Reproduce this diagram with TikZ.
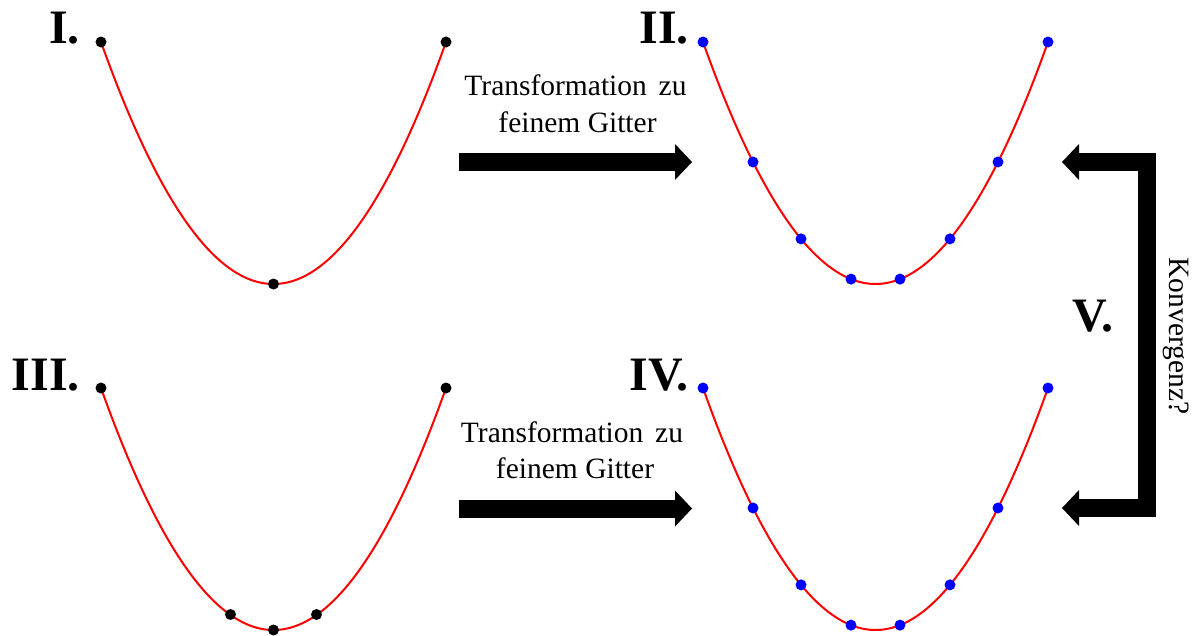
\documentclass[tikz,border=0pt]{standalone}
\usepackage{fontspec}
\setmainfont{Liberation Serif}
\usetikzlibrary{arrows.meta}
\begin{document}
\begin{tikzpicture}[x=1pt,y=-1pt,
  curve/.style={draw=red,line width=2pt},
  bdot/.style={circle,fill=black,inner sep=0pt,minimum size=11pt},
  udot/.style={circle,fill=blue,inner sep=0pt,minimum size=11pt},
  numlabel/.style={font=\bfseries\fontsize{48}{48}\selectfont,inner sep=0pt,anchor=base east},
  txt/.style={font=\fontsize{29.5}{36}\selectfont,inner sep=0pt,anchor=base},
  bigarrow/.style={line width=18pt,line join=miter,-{Triangle[length=17pt,width=36pt,line width=0pt]}}]
\useasboundingbox (0,0) rectangle (1197,635);
% parabolas
\def\para#1#2{\draw[curve] plot[domain=-172.5:172.5,samples=120,smooth] ({#1+\x},{#2-242*(\x/172.5)*(\x/172.5)});}
\para{273.5}{284}
\para{875.5}{284}
\para{273.5}{630}
\para{875.5}{630}
% I
\node[bdot] (p1a) at (101,42) {};
\node[bdot] (p1b) at (446,42) {};
\node[bdot] (p1c) at (273.5,284) {};
% III
\node[bdot] (p3a) at (101,388) {};
\node[bdot] (p3b) at (446,388) {};
\node[bdot] (p3c) at (273.5,630) {};
\node[bdot] (p3d) at (230.5,614.5) {};
\node[bdot] (p3e) at (316.5,614.5) {};
% II and IV
\foreach \yy/\nm in {0/two,346/four}{
  \foreach \dx [count=\i] in {-172.5,-122.5,-74.5,-24.5,24.5,74.5,122.5,172.5}{
    \node[udot] (\nm\i) at ({875.5+\dx},{\yy+284-242*(\dx/172.5)*(\dx/172.5)}) {};
  }
}
% labels
\node[numlabel] (lI) at (80,43) {I.};
\node[numlabel] (lII) at (689,43) {II.};
\node[numlabel] (lIII) at (80,390) {III.};
\node[numlabel] (lIV) at (689,390) {IV.};
\node[font=\bfseries\fontsize{48}{48}\selectfont,inner sep=0pt,anchor=base] (lV) at (1093,331) {V.};
% texts
\node[txt] (t1a) at (575.5,95) {Transformation\hspace{0.4em}zu};
\node[txt] (t1b) at (577.5,132) {feinem Gitter};
\node[txt] (t2a) at (572,442) {Transformation\hspace{0.4em}zu};
\node[txt] (t2b) at (575,478) {feinem Gitter};
\node[font=\fontsize{29.5}{36}\selectfont,inner sep=0pt,rotate=-90] (konv) at (1176,336) {Konvergenz?};
% arrows
\coordinate (a1s) at (459,162);
\coordinate (a1e) at (692,162);
\coordinate (a2s) at (459,508.5);
\coordinate (a2e) at (692,508.5);
\draw[bigarrow] (a1s) -- (a1e);
\draw[bigarrow] (a2s) -- (a2e);
\coordinate (cTop) at (1147,162);
\coordinate (cBot) at (1147,508);
\coordinate (tTop) at (1062,162);
\coordinate (tBot) at (1062,508);
\draw[bigarrow] (cBot) -- (cTop) -- (tTop);
\draw[bigarrow] (cTop) -- (cBot) -- (tBot);
\end{tikzpicture}
\end{document}
